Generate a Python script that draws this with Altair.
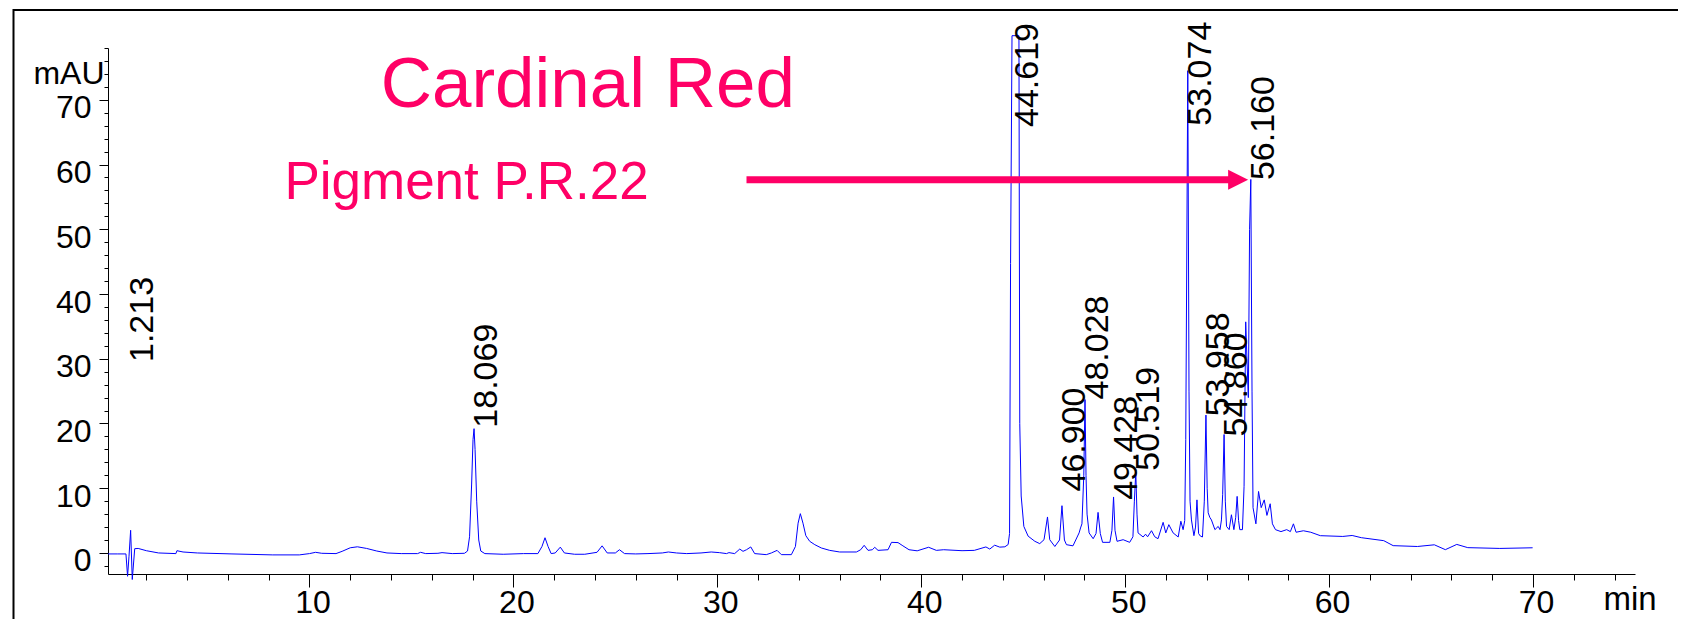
import altair as alt
import pandas as pd

# ---------------- data ----------------
time_min = [
    0.12, 0.6, 1.0, 1.08, 1.15, 1.23, 1.31, 1.43, 1.6, 2.0, 2.6, 3.45, 3.5, 3.8, 4.5,
    6.2, 8.2, 9.5, 10.0, 10.3, 10.6, 11.3, 11.6, 12.0, 12.35, 12.8, 13.3, 13.8, 14.5,
    15.3, 15.45, 15.7, 16.3, 16.5, 17.0, 17.6, 17.75, 17.85, 17.95, 18.02, 18.07,
    18.12, 18.2, 18.3, 18.4, 18.6, 19.5, 20.5, 21.2, 21.4, 21.55, 21.7, 21.85, 22.05,
    22.3, 22.5, 23.0, 23.5, 24.1, 24.35, 24.6, 25.0, 25.2, 25.45, 26.0, 26.6, 27.3,
    27.6, 28.0, 28.5, 29.2, 29.7, 30.1, 30.45, 30.57, 30.85, 31.1, 31.26, 31.43,
    31.64, 31.83, 32.4, 32.65, 32.93, 33.14, 33.63, 33.83, 33.96, 34.07, 34.2, 34.34,
    34.53, 34.78, 35.1, 35.51, 36.0, 36.82, 37.03, 37.2, 37.39, 37.6, 37.72, 37.88,
    38.37, 38.54, 38.86, 39.1, 39.4, 39.8, 40.36, 40.74, 41.1, 42.0, 42.6, 43.17,
    43.36, 43.6, 43.85, 44.1, 44.26, 44.33, 44.38, 44.45, 44.79, 44.83, 44.9, 45.03,
    45.24, 45.57, 45.81, 46.02, 46.19, 46.3, 46.55, 46.78, 46.9, 47.02, 47.12, 47.44,
    47.74, 47.81, 47.88, 47.97, 48.03, 48.08, 48.13, 48.23, 48.43, 48.57, 48.67,
    48.78, 48.89, 49.25, 49.35, 49.43, 49.5, 49.6, 49.9, 50.22, 50.38, 50.45, 50.52,
    50.58, 50.63, 50.88, 51.0, 51.1, 51.29, 51.45, 51.61, 51.86, 51.99, 52.14, 52.35,
    52.6, 52.73, 52.84, 52.92, 52.97, 53.07, 53.13, 53.18, 53.25, 53.37, 53.45, 53.52,
    53.6, 53.69, 53.79, 53.88, 53.96, 54.02, 54.07, 54.15, 54.23, 54.4, 54.56, 54.65,
    54.72, 54.78, 54.85, 54.91, 54.97, 55.1, 55.21, 55.33, 55.42, 55.49, 55.56, 55.62,
    55.75, 55.83, 55.91, 55.97, 56.04, 56.1, 56.16, 56.22, 56.27, 56.41, 56.54, 56.67,
    56.82, 56.95, 57.11, 57.22, 57.37, 57.64, 57.92, 58.1, 58.25, 58.38, 58.74, 59.1,
    59.57, 60.67, 61.13, 61.58, 62.68, 63.14, 64.33, 65.16, 65.7, 66.26, 66.8, 68.37,
    69.98,
]
signal_mau = [
    -0.15, -0.15, -0.15, -3.6, -0.5, 3.5, -4.1, 0.66, 0.7, 0.35, 0.0, -0.1, 0.35, 0.15, 0.0,
    -0.15, -0.3, -0.3, -0.1, 0.1, -0.05, -0.1, 0.25, 0.8, 0.95, 0.7, 0.3, 0.0, -0.1,
    -0.1, 0.1, -0.1, -0.05, 0.05, -0.1, -0.05, 0.3, 2.5, 10.5, 17.5, 19.2,
    16.0, 8.0, 2.0, 0.3, -0.1, -0.2, -0.1, -0.1, 1.0, 2.35, 1.0, -0.1, 0.0,
    0.9, 0.0, -0.2, -0.2, 0.1, 1.1, 0.0, 0.0, 0.5, -0.1, -0.15, -0.1, 0.0,
    0.15, 0.0, -0.1, 0.0, 0.15, 0.05, -0.1, 0.05, -0.1, 0.6, 0.25, 0.5,
    0.93, -0.1, -0.26, 0.0, 0.4, -0.26, -0.26, 1.0, 4.6, 6.07, 4.6, 2.67,
    1.8, 1.28, 0.77, 0.4, 0.15, 0.15, 0.5, 1.18, 0.4, 0.5, 0.87, 0.4,
    0.5, 1.64, 1.6, 1.1, 0.5, 0.33, 0.88, 0.4, 0.5, 0.35, 0.4, 0.93,
    0.6, 1.2, 0.9, 0.95, 1.3, 3.0, 44.7, 79.9, 79.9, 20.0, 8.8, 4.1,
    2.6, 1.8, 1.44, 2.05, 5.56, 2.05, 1.0, 2.0, 7.3, 2.0, 1.28, 1.1,
    3.1, 3.86, 4.5, 12.0, 23.7, 12.0, 6.0, 3.1, 2.2, 3.0, 6.27,
    3.0, 1.64, 1.64, 3.5, 8.65, 3.5, 1.8, 2.05, 1.64, 2.5, 8.0, 12.5,
    6.0, 3.1, 2.47, 2.9, 2.5, 3.44, 2.5, 2.2, 4.73, 3.1, 4.37, 3.1,
    2.47, 4.9, 3.6, 5.0, 17.5, 74.5, 25.0, 8.0, 5.1, 2.67, 4.0, 8.2,
    3.0, 2.6, 2.47, 8.0, 21.3, 10.0, 6.2, 5.5, 5.1, 3.6, 4.1, 3.6,
    5.1, 9.0, 18.3, 8.0, 4.1, 3.6, 5.9, 3.6, 5.5, 8.74, 5.0, 3.6,
    3.6, 10.3, 35.7, 30.0, 24.0, 50.0, 57.7, 25.0, 7.0, 4.5, 9.5, 7.0,
    8.2, 5.8, 7.6, 4.5, 3.6, 3.3, 3.6, 3.3, 4.5, 3.2, 3.43, 3.2,
    2.67, 2.55, 2.7, 2.36, 1.9, 1.13, 1.0, 1.26, 0.51, 1.32, 0.82, 0.7,
    0.8,
]

peak_times = [1.213, 18.069, 44.619, 46.900, 48.028, 49.428, 50.519, 53.074, 53.958, 54.860, 56.160]
peak_labels = ["1.213", "18.069", "44.619", "46.900", "48.028", "49.428", "50.519",
               "53.074", "53.958", "54.860", "56.160"]
peak_label_mau = [29.5, 19.35, 65.8, 9.5, 23.7, 8.2, 12.7, 66.0, 21.1, 18.0, 57.6]

title_text = ["Cardinal Red"]
title_pos = [13.49, 68.9]          # min, mAU
subtitle_text = ["Pigment P.R.22"]
subtitle_pos = [8.77, 54.74]
arrow_start, arrow_shaft_end, arrow_tip, arrow_mau = 31.43, 55.1, 56.03, 57.64

x_tick_values = list(range(2, 75, 2))
y_tick_values = list(range(-2, 79, 2))

# ---------------- styling ----------------
FONT = "Liberation Sans"
PINK = "#FF0066"
BLUE = "#0000FF"
xs = alt.Scale(domain=[0.12, 75], nice=False, zero=False)
ys = alt.Scale(domain=[-3.25, 78], nice=False, zero=False)

major = "datum.value % 10 === 0"

x_axis = alt.Axis(
    values=x_tick_values,
    labelExpr=f"{major} ? datum.label : ''",
    tickSize={"condition": {"test": major, "value": 13}, "value": 6},
    tickColor="black", tickWidth=1, domainColor="black", domainWidth=1,
    labelFont=FONT, labelFontSize=32, labelColor="black",
    labelAlign="center", labelBaseline="top", labelOffset=3, labelPadding=0,
    labelOverlap=False, labelFlush=False, labelBound=False, grid=False,
    title="min", titleFont=FONT, titleFontSize=33, titleFontWeight="normal",
    titleColor="black", titleAngle=0, titleAlign="left", titleBaseline="alphabetic",
    titleX=1495, titleY=35,
)
y_axis = alt.Axis(
    values=y_tick_values,
    labelExpr=f"{major} ? datum.label : ''",
    tickSize={"condition": {"test": major, "value": 9}, "value": 4},
    tickColor="black", tickWidth=1, domainColor="black", domainWidth=1,
    labelFont=FONT, labelFontSize=32, labelColor="black",
    labelAlign="right", labelBaseline="top", labelOffset=-7, labelPadding=8,
    labelOverlap=False, labelFlush=False, labelBound=False, grid=False,
    title="mAU", titleFont=FONT, titleFontSize=32, titleFontWeight="normal",
    titleColor="black", titleAngle=0, titleAlign="right", titleBaseline="alphabetic",
    titleX=-4, titleY=35,
)


def X(field):
    return alt.X(field, scale=xs, axis=x_axis)


def Y(field):
    return alt.Y(field, scale=ys, axis=y_axis)


trace_df = pd.DataFrame({"t": time_min, "v": signal_mau})
label_df = pd.DataFrame({"t": peak_times, "v": peak_label_mau, "label": peak_labels})
title_df = pd.DataFrame({"t": [title_pos[0]], "v": [title_pos[1]], "txt": title_text})
sub_df = pd.DataFrame({"t": [subtitle_pos[0]], "v": [subtitle_pos[1]], "txt": subtitle_text})
shaft_df = pd.DataFrame({"t": [arrow_start], "t1": [arrow_shaft_end], "v": [arrow_mau]})
head_df = pd.DataFrame({"t": [arrow_tip], "v": [arrow_mau]})

line = alt.Chart(trace_df).mark_line(color=BLUE, strokeWidth=1).encode(
    x=X("t:Q"), y=Y("v:Q")
)

labels = alt.Chart(label_df).mark_text(
    angle=270, align="left", baseline="top", dy=-4, fontSize=34, font=FONT, color="black"
).encode(x=X("t:Q"), y=Y("v:Q"), text="label:N")

title = alt.Chart(title_df).mark_text(
    align="left", baseline="alphabetic", fontSize=71, font=FONT, color=PINK
).encode(x=X("t:Q"), y=Y("v:Q"), text="txt:N")

subtitle = alt.Chart(sub_df).mark_text(
    align="left", baseline="alphabetic", fontSize=53, font=FONT, color=PINK
).encode(x=X("t:Q"), y=Y("v:Q"), text="txt:N")

shaft = alt.Chart(shaft_df).mark_rule(color=PINK, strokeWidth=7, strokeCap="butt").encode(
    x=X("t:Q"), x2="t1:Q", y=Y("v:Q")
)
head = alt.Chart(head_df).mark_point(
    shape="M-2,-1L0,0L-2,1Z", size=400, filled=True, fill=PINK, color=PINK,
    opacity=1, strokeWidth=0
).encode(x=X("t:Q"), y=Y("v:Q"))

frame_src = alt.Data(values=[{}])
frame_top = alt.Chart(frame_src).mark_rule(color="black", strokeWidth=2).encode(
    x=alt.value(-95), x2=alt.value(1700), y=alt.value(-38)
)
frame_left = alt.Chart(frame_src).mark_rule(color="black", strokeWidth=2).encode(
    x=alt.value(-94.5), y=alt.value(-39), y2=alt.value(700)
)

chart = alt.layer(
    line, labels, title, subtitle, shaft, head, frame_top, frame_left
).properties(
    width=1527, height=526,
    padding={"left": 100, "top": 40, "right": 43, "bottom": 45},
    autosize=alt.AutoSizeParams(type="none"),
    background="white",
).configure_view(stroke=None)

chart.save("out.html", embed_options={"renderer": "svg", "actions": False})
